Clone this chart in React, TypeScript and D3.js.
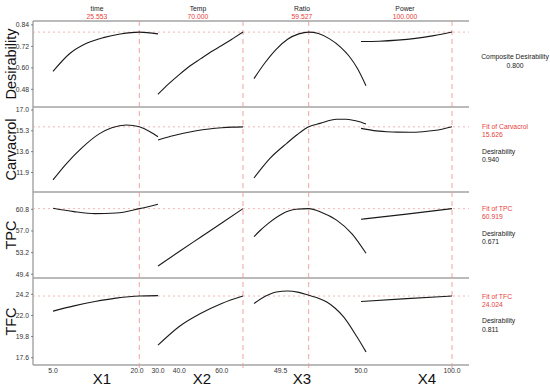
import React from "react";
import * as d3 from "d3";

// factors (columns)
const factorNames = ["time", "Temp", "Ratio", "Power"];
const factorOptLabels = ["25.553", "70.000", "59.527", "100.000"];
const factorOpt = [25.553, 70, 59.527, 100];
const factorTitles = ["X1", "X2", "X3", "X4"];
const factorDomains: [number, number][] = [[5, 30], [30, 70], [40, 80], [50, 100]];
const factorTicks = [[5, 25], [30, 40, 60], [49.5], [50, 100]];
const factorTickLabels = [["5.0", "20.0"], ["30.0", "40.0", "60.0"], ["49.5"], ["50.0", "100.0"]];

// responses (rows)
const responseNames = ["Desirability", "Carvacrol", "TPC", "TFC"];
const responseDomains: [number, number][] = [[0.381, 0.862], [10.306, 17.245], [48.75, 63.84], [16.84, 25.9]];
const responseTicks = [[0.48, 0.6, 0.72, 0.84], [11.9, 13.6, 15.3, 17.0], [49.4, 53.2, 57.0, 60.8], [17.6, 19.8, 22.0, 24.2]];
const responseFit = [0.8, 15.626, 60.919, 24.024];
const fitLabels = ["", "15.626", "60.919", "24.024"];
const desirLabels = ["0.800", "0.940", "0.671", "0.811"];

// curves: [x, y] per factor
const desirability: [number, number][][] = [
  [[5, 0.58], [9, 0.68], [13, 0.737], [17, 0.769], [21, 0.789], [25.553, 0.8], [30, 0.79]],
  [[30, 0.452], [35, 0.51], [40, 0.562], [45, 0.61], [50, 0.65], [55, 0.69], [60, 0.725], [65, 0.762], [70, 0.8]],
  [[40, 0.54], [44, 0.63], [48, 0.705], [52, 0.76], [56, 0.79], [59.527, 0.8], [63, 0.792], [67, 0.762], [71, 0.715], [74, 0.665], [77, 0.595], [80, 0.5]],
  [[50, 0.747], [60, 0.749], [70, 0.755], [80, 0.765], [90, 0.78], [100, 0.8]],
];
const carvacrol: [number, number][][] = [
  [[5, 11.3], [8, 12.55], [12, 13.95], [16, 15.05], [19, 15.55], [22.5, 15.78], [25.553, 15.626], [28, 15.25], [30, 14.82]],
  [[30, 14.55], [36, 14.85], [42, 15.1], [48, 15.3], [54, 15.45], [60, 15.55], [65, 15.6], [70, 15.626]],
  [[40, 11.45], [45.7, 13.05], [51.7, 14.28], [55.5, 15.0], [59.527, 15.626], [63.6, 15.91], [69.5, 16.24], [73, 16.25], [76.7, 16.1], [80, 15.86]],
  [[50, 15.5], [57, 15.32], [64, 15.23], [70, 15.19], [77, 15.18], [84, 15.23], [90, 15.32], [95, 15.45], [100, 15.626]],
];
const tpc: [number, number][][] = [
  [[5, 61.0], [10, 60.4], [15, 60.05], [20, 60.15], [25.553, 60.919], [30, 61.7]],
  [[30, 50.85], [40, 53.4], [50, 55.9], [60, 58.4], [70, 60.919]],
  [[40, 56.0], [42, 57.0], [45, 58.3], [50, 60.0], [55, 60.8], [59.527, 60.919], [64, 60.3], [69.5, 58.9], [75, 56.5], [80, 53.1]],
  [[50, 59.05], [75, 59.95], [100, 60.919]],
];
const tfc: [number, number][][] = [
  [[5, 22.45], [10, 23.0], [15, 23.45], [20, 23.8], [25.553, 24.024], [30, 24.06]],
  [[30, 18.9], [40, 20.85], [50, 22.2], [60, 23.25], [70, 24.024]],
  [[40, 23.25], [44, 24.0], [48, 24.45], [52, 24.55], [56, 24.4], [59.527, 24.1], [63, 23.8], [66, 23.4], [69, 22.75], [72, 21.85], [76.7, 19.8], [80, 18.2]],
  [[50, 23.45], [75, 23.75], [100, 24.024]],
];
const curves = [desirability, carvacrol, tpc, tfc];

// layout
const W = 550;
const H = 388;
const left = 33;
const right = 469;
const rowEdges = [21, 107, 192, 278, 365];
const colRanges: [number, number][] = [[53, 158], [158, 243], [254, 366], [361, 452]];
const headerX = [97, 198, 302, 405];
const titleX = [102, 202, 302, 427];
const font = "'Liberation Sans', Arial, sans-serif";
const frame = "#a3a3a3";
const red = "#e8413c";
const smallText = 6.8;

export default function App() {
  const xs = factorDomains.map((d, i) => d3.scaleLinear().domain(d).range(colRanges[i]));
  const ys = responseDomains.map((d, i) => d3.scaleLinear().domain(d).range([rowEdges[i + 1], rowEdges[i]]));
  const bottom = rowEdges[4];

  return (
    <svg width={W} height={H} style={{ position: "absolute", left: 0, top: 0, background: "#fff" }} fontFamily={font}>
      {/* top factor labels */}
      {factorNames.map((n, i) => (
        <g key={n}>
          <text x={headerX[i]} y={11} fontSize={smallText} textAnchor="middle" fill="#222">{n}</text>
          <text x={headerX[i]} y={18.5} fontSize={smallText} textAnchor="middle" fill={red}>{factorOptLabels[i]}</text>
        </g>
      ))}

      {/* frame lines */}
      {rowEdges.map((y, i) => (
        <line key={i} x1={left} x2={right} y1={y} y2={y} stroke={frame} strokeWidth={1.4} />
      ))}
      <line x1={left} x2={left} y1={rowEdges[0]} y2={bottom} stroke={frame} strokeWidth={1.4} />

      {/* optimum vertical dashed lines */}
      {factorOpt.map((v, i) => (
        <line key={i} x1={xs[i](v)} x2={xs[i](v)} y1={rowEdges[0]} y2={bottom + 3}
          stroke="#ee9a9a" strokeWidth={0.9} strokeDasharray="5,4" />
      ))}

      {responseNames.map((name, r) => {
        const y = ys[r];
        const rowMid = (rowEdges[r] + rowEdges[r + 1]) / 2;
        return (
          <g key={name}>
            {/* fit horizontal dotted line */}
            <line x1={left} x2={right} y1={y(responseFit[r])} y2={y(responseFit[r])}
              stroke="#efa3a3" strokeWidth={0.8} strokeDasharray="2,3" />
            {/* y ticks */}
            {responseTicks[r].map((t) => (
              <g key={t} transform={`translate(${left},${y(t)})`}>
                <line x1={-2} x2={0} stroke="#666" strokeWidth={0.8} />
                <text x={-4} dy="0.35em" fontSize={smallText} textAnchor="end" fill="#333">
                  {r === 0 ? t.toFixed(2) : t.toFixed(1)}
                </text>
              </g>
            ))}
            {/* y title */}
            <text transform={`translate(15.5,${rowMid}) rotate(-90)`} fontSize={14.5} textAnchor="middle" fill="#111">
              {name}
            </text>
            {/* curves */}
            {curves[r].map((pts, c) => {
              const line = d3.line<[number, number]>()
                .x((d) => xs[c](d[0]))
                .y((d) => y(d[1]))
                .curve(d3.curveMonotoneX);
              return <path key={c} d={line(pts) || ""} fill="none" stroke="#1a1a1a" strokeWidth={1.1} />;
            })}
            {/* right-hand annotations */}
            {r === 0 ? (
              <g fontSize={smallText} fill="#222" textAnchor="middle">
                <text x={515} y={59}>Composite Desirability</text>
                <text x={515} y={68}>{desirLabels[0]}</text>
              </g>
            ) : (
              <g fontSize={smallText}>
                <text x={482} y={y(responseFit[r]) + 2.5} fill={red}>{`Fit of ${name}`}</text>
                <text x={482} y={y(responseFit[r]) + 10.5} fill={red}>{fitLabels[r]}</text>
                <text x={482} y={y(responseFit[r]) + 27} fill="#222">Desirability</text>
                <text x={482} y={y(responseFit[r]) + 35.5} fill="#222">{desirLabels[r]}</text>
              </g>
            )}
          </g>
        );
      })}

      {/* bottom ticks + titles */}
      {factorTicks.map((ticks, i) => (
        <g key={i}>
          {ticks.map((t, k) => (
            <text key={t} x={xs[i](t)} y={373} fontSize={smallText} textAnchor="middle" fill="#333">
              {factorTickLabels[i][k]}
            </text>
          ))}
        </g>
      ))}
      {factorTitles.map((t, i) => (
        <text key={t} x={titleX[i]} y={384} fontSize={15} textAnchor="middle" fill="#111">{t}</text>
      ))}
    </svg>
  );
}
